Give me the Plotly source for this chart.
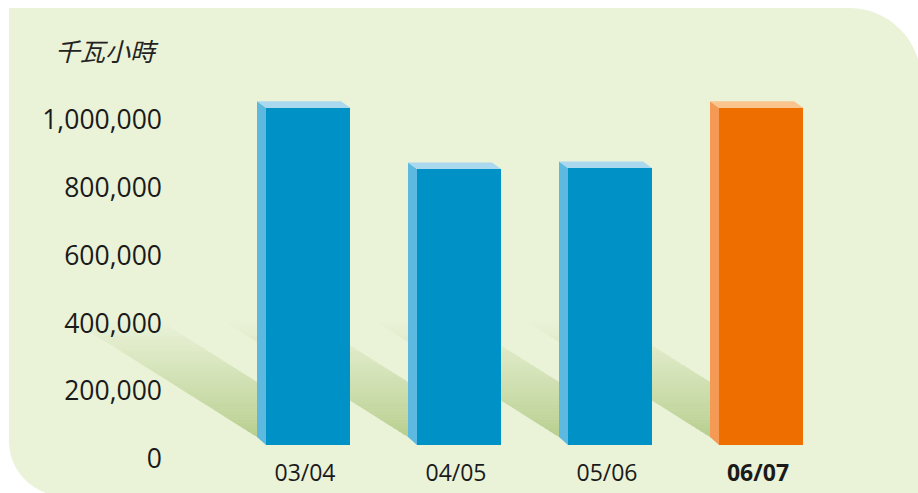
import plotly.graph_objects as go

# ---------------- data ----------------
categories = ["03/04", "04/05", "05/06", "06/07"]
values = [995000, 814000, 817000, 995000]
tick_values = [0, 200000, 400000, 600000, 800000, 1000000]
tick_labels = ["0", "200,000", "400,000", "600,000", "800,000", "1,000,000"]
x_labels = ["03/04", "04/05", "05/06", "<b>06/07</b>"]
y_title = "千瓦小時"

# ---------------- styles ----------------
W, H = 918, 493
L, R, T, B = 166, 905, 30, 455          # plot area in pixels
PX_PER_CAT = 151.0
PX_PER_UNIT = 339e-6                     # pixels per kWh
BASE_PX = 445                            # pixel row of value 0
x0 = -(308 - L) / PX_PER_CAT
x1 = (len(categories) - 1) + (R - 761) / PX_PER_CAT
y0 = -(B - BASE_PX) / PX_PER_UNIT
y1 = (BASE_PX - T) / PX_PER_UNIT
BAR_W = 84 / PX_PER_CAT

BG = (234, 242, 216)
SHADOW = (184, 207, 143)
front_cols = ["#0092C7", "#0092C7", "#0092C7", "#EE6E00"]
side_cols = ["#5DB9E0", "#5DB9E0", "#5DB9E0", "#F49A55"]
top_cols = ["#A9D8EF", "#A9D8EF", "#A9D8EF", "#FAC48C"]
DEPTH_X, DEPTH_Y = -9, -6.5


def px_x(v):
    return L + (v - x0) / (x1 - x0) * (R - L)


def px_y(v):
    return B - (v - y0) / (y1 - y0) * (B - T)


def pap_x(p):
    return (p - L) / (R - L)


def pap_y(p):
    return (B - p) / (B - T)


def path_from(pts):
    s = "M " + " L ".join(f"{pap_x(a):.5f},{pap_y(b):.5f}" for a, b in pts) + " Z"
    return s


shapes = []

# ---- background panel with two rounded corners ----
px0, py0, px1, py1 = 9, 8, 921, 496
rtr, rbl = 72, 55
k = 0.5523
def P(a, b):
    return f"{pap_x(a):.5f},{pap_y(b):.5f}"
panel = (
    f"M {P(px0, py0)} L {P(px1 - rtr, py0)} "
    f"C {P(px1 - rtr + k * rtr, py0)} {P(px1, py0 + rtr - k * rtr)} {P(px1, py0 + rtr)} "
    f"L {P(px1, py1)} L {P(px0 + rbl, py1)} "
    f"C {P(px0 + rbl - k * rbl, py1)} {P(px0, py1 - rbl + k * rbl)} {P(px0, py1 - rbl)} Z"
)
shapes.append(dict(type="path", xref="paper", yref="paper", path=panel,
                   fillcolor="rgb(234,242,216)", line=dict(width=0), layer="below"))

# ---- diagonal gradient shadows behind each bar ----
SLOPE = 0.63
SH_H = 55
SH_TOP = 318
N = 40
for i, v in enumerate(values):
    xb = px_x(i - BAR_W / 2) + DEPTH_X
    yb = BASE_PX - 8
    def xl(y):
        return xb - (yb - y) / SLOPE
    def xr(y):
        return min(xb, xb - (yb - SH_H - y) / SLOPE)
    for j in range(N):
        ya = SH_TOP + (yb - SH_TOP) * j / N
        yc = SH_TOP + (yb - SH_TOP) * (j + 1) / N + 0.6
        yc = min(yc, yb)
        t = (j + 0.5) / N
        t = t ** 1.1
        col = tuple(int(round(BG[c] + (SHADOW[c] - BG[c]) * t)) for c in range(3))
        pts = [(xl(ya), ya), (xr(ya), ya)]
        kink = yb - SH_H
        if ya < kink < yc:
            pts.append((xb, kink))
        pts += [(xr(yc), yc), (xl(yc), yc)]
        shapes.append(dict(type="path", xref="paper", yref="paper", path=path_from(pts),
                           fillcolor=f"rgb{col}", line=dict(width=0), layer="below"))

# ---- 3D side and top faces ----
for i, v in enumerate(values):
    fl = px_x(i - BAR_W / 2)
    fr = px_x(i + BAR_W / 2)
    ft = px_y(v)
    fb = px_y(0)
    side = [(fl, ft), (fl + DEPTH_X, ft + DEPTH_Y), (fl + DEPTH_X, fb - 8), (fl, fb)]
    top = [(fl, ft), (fr, ft), (fr + DEPTH_X, ft + DEPTH_Y), (fl + DEPTH_X, ft + DEPTH_Y)]
    shapes.append(dict(type="path", xref="paper", yref="paper", path=path_from(side),
                       fillcolor=side_cols[i], line=dict(width=0), layer="above"))
    shapes.append(dict(type="path", xref="paper", yref="paper", path=path_from(top),
                       fillcolor=top_cols[i], line=dict(width=0), layer="above"))

fig = go.Figure()
fig.add_trace(go.Bar(
    x=list(range(len(categories))), y=values, width=BAR_W,
    marker=dict(color=front_cols, line=dict(width=0)),
    hovertext=categories, showlegend=False,
))

fig.update_layout(
    width=W, height=H,
    margin=dict(l=L, r=W - R, t=T, b=H - B, pad=0, autoexpand=False),
    paper_bgcolor="white", plot_bgcolor="rgba(0,0,0,0)",
    font=dict(family="Open Sans, Noto Sans, sans-serif", color="#1a1a1a"),
    shapes=shapes,
    showlegend=False,
    xaxis=dict(range=[x0, x1], tickvals=list(range(len(categories))), ticktext=x_labels,
               showgrid=False, zeroline=False, showline=False, automargin=False,
               ticks="", ticklabelshift=-3, ticklabelstandoff=2,
               tickfont=dict(size=23, color="#1a1a1a")),
    yaxis=dict(range=[y0, y1], tickvals=tick_values, automargin=False,
               ticktext=tick_labels, showgrid=False, zeroline=False, showline=False,
               ticks="", ticklabelshift=14, ticklabelstandoff=3,
               tickfont=dict(size=26.5, color="#1a1a1a")),
    annotations=[dict(text=f"<i>{y_title}</i>", xref="paper", yref="paper",
                      x=pap_x(107), y=pap_y(50), xanchor="center", yanchor="middle",
                      showarrow=False,
                      font=dict(size=25, color="#222222",
                                family="Noto Sans CJK TC, sans-serif"))],
)

fig.write_html("out.html")
